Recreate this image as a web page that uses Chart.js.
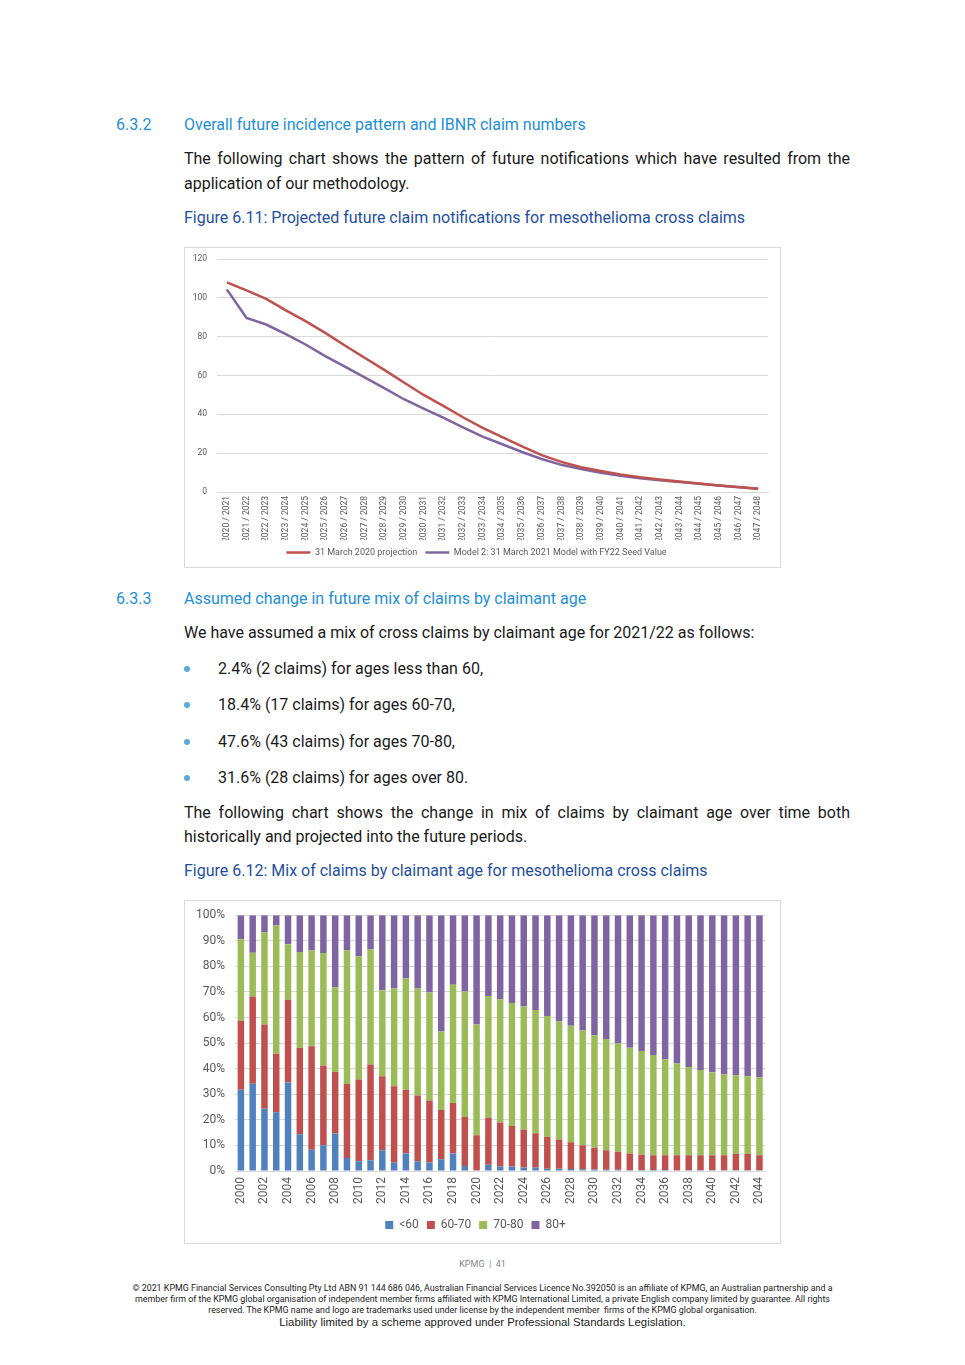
<!DOCTYPE html>
<html>
<head>
<meta charset="utf-8">
<script src="https://cdn.jsdelivr.net/npm/chart.js@4/dist/chart.umd.min.js"></script>
<style>
  body { margin: 0; background: #fff; font-family: 'Roboto', sans-serif; color: #1a1a1a; }
  .page { position: relative; width: 965px; height: 1365px; overflow: hidden; }
  .t { position: absolute; white-space: nowrap; line-height: 24px; font-size: 16px; }
  .h { color: #1e8fd6; }
  .cap { color: #1f4fa0; }
  .just { text-align: justify; text-align-last: justify; width: 666px; white-space: normal; }
  .dot { position: absolute; width: 6px; height: 6px; border-radius: 50%; background: #5aa9dd; }
  .box { position: absolute; left: 184px; width: 595px; border: 1px solid #d9d9d9; overflow: hidden; }
  .inner { position: absolute; left: 0; width: 595px; }
  .foot { position: absolute; left: 0; width: 965px; text-align: center; font-size: 8.9px; line-height: 11px; color: #222; }
</style>
</head>
<body>
<div class="page">
  <div class="t h" style="left:116px;top:113px">6.3.2</div>
  <div class="t h" style="left:184px;top:113px">Overall future incidence pattern and IBNR claim numbers</div>
  <div class="t just" style="left:184px;top:147px">The following chart shows the pattern of future notifications which have resulted from the</div>
  <div class="t" style="left:184px;top:172px">application of our methodology.</div>
  <div class="t cap" style="left:184px;top:206px">Figure 6.11: Projected future claim notifications for mesothelioma cross claims</div>

  <div class="box" style="top:247px;height:319px"><div class="inner" style="top:-4px;height:323px"><canvas id="lineChart"></canvas></div></div>

  <div class="t h" style="left:116px;top:587px">6.3.3</div>
  <div class="t h" style="left:184px;top:587px">Assumed change in future mix of claims by claimant age</div>
  <div class="t" style="left:184px;top:621px">We have assumed a mix of cross claims by claimant age for 2021/22 as follows:</div>
  <div class="dot" style="left:184px;top:666px"></div>
  <div class="t" style="left:218px;top:657px">2.4% (2 claims) for ages less than 60,</div>
  <div class="dot" style="left:184px;top:702px"></div>
  <div class="t" style="left:218px;top:693px">18.4% (17 claims) for ages 60-70,</div>
  <div class="dot" style="left:184px;top:739px"></div>
  <div class="t" style="left:218px;top:730px">47.6% (43 claims) for ages 70-80,</div>
  <div class="dot" style="left:184px;top:775px"></div>
  <div class="t" style="left:218px;top:766px">31.6% (28 claims) for ages over 80.</div>
  <div class="t just" style="left:184px;top:801px">The following chart shows the change in mix of claims by claimant age over time both</div>
  <div class="t" style="left:184px;top:825px">historically and projected into the future periods.</div>
  <div class="t cap" style="left:184px;top:859px">Figure 6.12: Mix of claims by claimant age for mesothelioma cross claims</div>

  <div class="box" style="top:900px;height:342px"><div class="inner" style="top:-3px;height:345px"><canvas id="barChart"></canvas></div></div>

  <div class="foot" style="top:1259px;font-size:9px;color:#888">KPMG &nbsp;|&nbsp; 41</div>
  <div class="foot" style="top:1283px">© 2021 KPMG Financial Services Consulting Pty Ltd ABN 91 144 686 046, Australian Financial Services Licence No.392050 is an affiliate of KPMG, an Australian partnership and a</div>
  <div class="foot" style="top:1294px">member firm of the KPMG global organisation of independent member firms affiliated with KPMG International Limited, a private English company limited by guarantee. All rights</div>
  <div class="foot" style="top:1305px">reserved. The KPMG name and logo are trademarks used under license by the independent member&nbsp; firms of the KPMG global organisation.</div>
  <div class="foot" style="top:1315px;font-family:'Liberation Sans',Arial,sans-serif;font-size:11.4px;line-height:14px">Liability limited by a scheme approved under Professional Standards Legislation.</div>
</div>

<script>
// Figure 6.11 data
const periods = ['2020 / 2021', '2021 / 2022', '2022 / 2023', '2023 / 2024', '2024 / 2025', '2025 / 2026', '2026 / 2027',
    '2027 / 2028', '2028 / 2029', '2029 / 2030', '2030 / 2031', '2031 / 2032', '2032 / 2033', '2033 / 2034', '2034 / 2035',
    '2035 / 2036', '2036 / 2037', '2037 / 2038', '2038 / 2039', '2039 / 2040', '2040 / 2041', '2041 / 2042', '2042 / 2043',
    '2043 / 2044', '2044 / 2045', '2045 / 2046', '2046 / 2047', '2047 / 2048'];
const proj2020 = [108, 103.9, 99.5, 93.6, 88, 82, 75.5, 69.2, 62.9, 56.4, 50, 44.4, 38.5, 33, 28.3, 23.5, 19, 15.5, 12.8, 10.8, 9, 7.6, 6.5, 5.4, 4.4, 3.4, 2.6, 1.7];
const model2021 = [104.4, 89.7, 86.3, 81.3, 76, 70, 64.6, 59.1, 53.5, 47.8, 43, 38.3, 33.3, 28.5, 24.6, 20.6, 17, 14, 11.8, 9.9, 8.4, 7.1, 6, 5.1, 4.2, 3.3, 2.5, 1.7];
const lineTicks = [0, 20, 40, 60, 80, 100, 120];

// Figure 6.12 data (percent of claims)
const years = [];
for (let y = 2000; y <= 2044; y++) years.push(String(y));
const under60 = [31.8, 34.1, 24.3, 23, 34.6, 14.4, 8.3, 10.1, 14.7, 5.1, 3.8, 4.2, 8.1, 3.3, 6.8, 3.8, 3.3, 4.6, 6.8, 2, 0.3,
    2.4, 1.8, 1.8, 1.4, 1.4, 0.9, 0.9, 0.8, 0.7, 0.6, 0.5, 0.5, 0.4, 0.4, 0.4, 0.4, 0.3, 0.3, 0.3, 0.3, 0.3, 0.3, 0.3, 0.3];
const age60to70 = [26.9, 34.1, 33, 22.8, 32.3, 33.8, 40.5, 31, 24, 28.9, 32, 37.4, 28.9, 29.8, 25, 25.7, 24.3, 19.2, 19.8, 19.1, 13.7,
    18.4, 17.2, 15.8, 14.7, 13.4, 12.4, 11.4, 10.4, 9.4, 8.5, 7.6, 7, 6.4, 6, 5.8, 5.8, 5.9, 5.9, 5.9, 5.9, 5.9, 6.3, 6.3, 5.9];
const age70to80 = [31.9, 17.1, 35.9, 50.3, 21.7, 37.4, 37.4, 44.1, 33.1, 52.2, 48.1, 45, 33.7, 38.2, 43.5, 41.8, 42.2, 30.7, 46.2, 49.1, 43.3,
    47.6, 48.1, 48.1, 48.2, 48.1, 47.3, 46.1, 45.6, 44.8, 44, 43.5, 42.4, 41.4, 40.5, 39.1, 37.5, 35.8, 34.5, 33.3, 32.4, 31.6, 30.8, 30.4, 30.4];
const over80 = [9.4, 14.7, 6.8, 3.9, 11.4, 14.4, 13.8, 14.8, 28.2, 13.8, 16.1, 13.4, 29.3, 28.7, 24.7, 28.7, 30.2, 45.5, 27.2, 29.8, 42.7,
    31.6, 32.9, 34.3, 35.7, 37.1, 39.4, 41.6, 43.2, 45.1, 46.9, 48.4, 50.1, 51.8, 53.1, 54.7, 56.3, 58, 59.3, 60.5, 61.4, 62.2, 62.6, 63, 63.4];

const GREY = '#595959';
const GRID = '#d9d9d9';

new Chart(document.getElementById('lineChart'), {
    type: 'line',
    data: {
        labels: periods,
        datasets: [
            { label: '31 March 2020 projection', data: proj2020, borderColor: '#c0504d', backgroundColor: '#c0504d', borderWidth: 2.5, pointRadius: 0, tension: 0 },
            { label: 'Model 2: 31 March 2021 Model with FY22 Seed Value', data: model2021, borderColor: '#8064a2', backgroundColor: '#8064a2', borderWidth: 2.5, pointRadius: 0, tension: 0 },
        ],
    },
    options: {
        responsive: true,
        maintainAspectRatio: false,
        animation: false,
        layout: { padding: { top: 0, right: 12, bottom: 0, left: 0 } },
        plugins: {
            legend: {
                position: 'bottom',
                labels: { color: GREY, font: { family: 'Roboto', size: 9 }, usePointStyle: true, pointStyle: 'line', pointStyleWidth: 24, boxHeight: 8, padding: 8 },
            },
            tooltip: { enabled: false },
        },
        scales: {
            x: {
                offset: true,
                grid: { display: false, drawTicks: false },
                border: { color: GRID },
                ticks: { color: GREY, font: { family: 'Roboto', size: 8.5 }, maxRotation: 90, minRotation: 90, autoSkip: false, padding: 4 },
                afterFit: s => { s.height = 48; },
            },
            y: {
                min: 0, max: 120,
                afterBuildTicks: s => { s.ticks = lineTicks.map(v => ({ value: v })); },
                grid: { color: GRID, drawTicks: false },
                border: { display: false },
                ticks: { color: GREY, font: { family: 'Roboto', size: 8.5 }, padding: 10 },
                afterFit: s => { s.width = 32; },
            },
        },
    },
});

new Chart(document.getElementById('barChart'), {
    type: 'bar',
    data: {
        labels: years,
        datasets: [
            { label: '<60', data: under60, backgroundColor: '#4f81bd' },
            { label: '60-70', data: age60to70, backgroundColor: '#c0504d' },
            { label: '70-80', data: age70to80, backgroundColor: '#9bbb59' },
            { label: '80+', data: over80, backgroundColor: '#8064a2' },
        ],
    },
    options: {
        responsive: true,
        maintainAspectRatio: false,
        animation: false,
        datasets: { bar: { barPercentage: 0.55, categoryPercentage: 1 } },
        layout: { padding: { top: 3, right: 14, bottom: 2, left: 0 } },
        plugins: {
            legend: {
                position: 'bottom',
                labels: { color: GREY, font: { family: 'Roboto', size: 12 }, boxWidth: 8, boxHeight: 8, padding: 8 },
            },
            tooltip: { enabled: false },
        },
        scales: {
            x: {
                stacked: true,
                grid: { display: false, drawTicks: false },
                border: { color: GRID },
                ticks: { color: GREY, font: { family: 'Roboto', size: 12 }, maxRotation: 90, minRotation: 90, autoSkip: false, padding: 6,
                    callback: (v, i) => i % 2 === 0 ? years[i] : '' },
                afterFit: s => { s.height = 40; },
            },
            y: {
                stacked: true,
                min: 0, max: 100,
                grid: { color: GRID, drawTicks: false },
                border: { display: false },
                ticks: { color: GREY, font: { family: 'Roboto', size: 12 }, stepSize: 10, padding: 10, callback: v => v + '%' },
                afterFit: s => { s.width = 50; },
            },
        },
    },
});
</script>
</body>
</html>
